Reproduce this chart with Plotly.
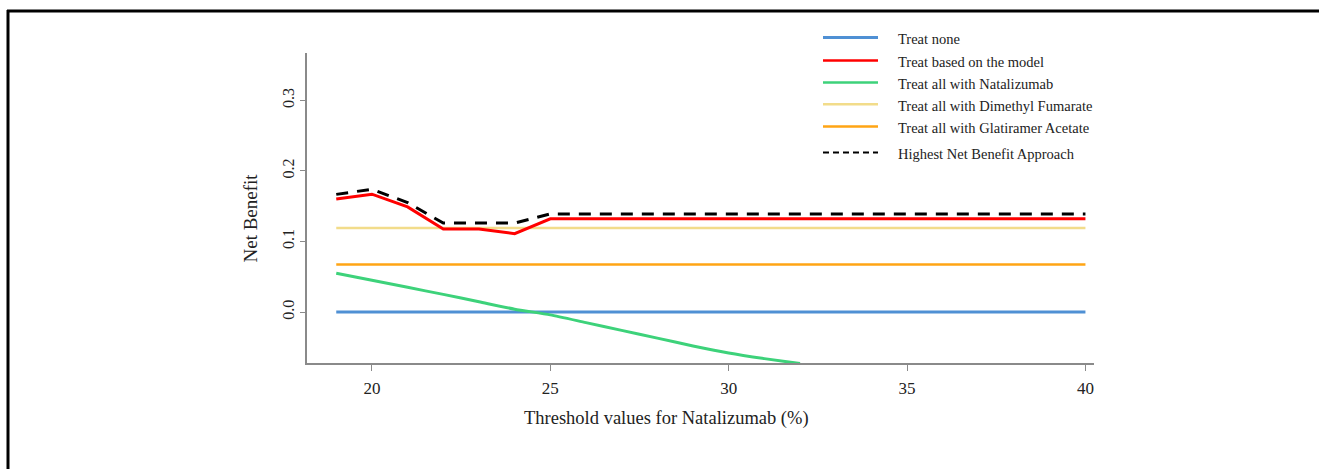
import plotly.graph_objects as go

# ---------------- data ----------------
thresholds = [19, 20, 21, 22, 23, 24, 25, 26, 27, 28, 29, 30, 31, 32, 33, 34, 35, 36, 37, 38, 39, 40]
treat_none = [0.0, 0.0, 0.0, 0.0, 0.0, 0.0, 0.0, 0.0, 0.0, 0.0, 0.0,
              0.0, 0.0, 0.0, 0.0, 0.0, 0.0, 0.0, 0.0, 0.0, 0.0, 0.0]
treat_model = [0.160, 0.167, 0.149, 0.1175, 0.1175, 0.111, 0.132, 0.132, 0.132, 0.132, 0.132,
               0.132, 0.132, 0.132, 0.132, 0.132, 0.132, 0.132, 0.132, 0.132, 0.132, 0.132]
nat_thresholds = [19, 20, 21, 22, 23, 24, 25, 26, 27, 28, 29, 30, 31, 32]
treat_natalizumab = [0.055, 0.045, 0.035, 0.025, 0.0145, 0.004, -0.004, -0.015, -0.026,
                     -0.037, -0.048, -0.058, -0.066, -0.073]
treat_dmf = [0.119, 0.119, 0.119, 0.119, 0.119, 0.119, 0.119, 0.119, 0.119, 0.119, 0.119,
             0.119, 0.119, 0.119, 0.119, 0.119, 0.119, 0.119, 0.119, 0.119, 0.119, 0.119]
treat_ga = [0.0675, 0.0675, 0.0675, 0.0675, 0.0675, 0.0675, 0.0675, 0.0675, 0.0675, 0.0675, 0.0675,
            0.0675, 0.0675, 0.0675, 0.0675, 0.0675, 0.0675, 0.0675, 0.0675, 0.0675, 0.0675, 0.0675]
highest_nb = [0.1667, 0.174, 0.155, 0.126, 0.126, 0.126, 0.139, 0.139, 0.139, 0.139, 0.139,
              0.139, 0.139, 0.139, 0.139, 0.139, 0.139, 0.139, 0.139, 0.139, 0.139, 0.139]

x_ticks = [20, 25, 30, 35, 40]
y_ticks = [0.0, 0.1, 0.2, 0.3]
y_tick_labels = ["0.0", "0.1", "0.2", "0.3"]

series_names = ["Treat none", "Treat based on the model", "Treat all with Natalizumab",
                "Treat all with Dimethyl Fumarate", "Treat all with Glatiramer Acetate",
                "Highest Net Benefit Approach"]

# ---------------- layout geometry ----------------
W, H = 1319, 469
L, R, T, B = 307, 1094, 53, 363   # plot area in pixels
FONT = "Liberation Serif, Times New Roman, serif"

COL_BLUE = "#4f90d4"
COL_RED = "#ff0000"
COL_GREEN = "#3dd27a"
COL_YELLOW = "#f2dc8a"
COL_ORANGE = "#ffa514"
COL_BLACK = "#000000"
AXIS_COL = "#8a8a8a"
TEXT_COL = "#222222"


def px(xp):
    return (xp - L) / (R - L)


def py(yp):
    return (B - yp) / (B - T)


fig = go.Figure()
fig.add_trace(go.Scatter(x=thresholds, y=treat_none, mode="lines",
                         line=dict(color=COL_BLUE, width=3), name=series_names[0]))
fig.add_trace(go.Scatter(x=nat_thresholds, y=treat_natalizumab, mode="lines",
                         line=dict(color=COL_GREEN, width=3, shape="spline", smoothing=0.6),
                         name=series_names[2]))
fig.add_trace(go.Scatter(x=thresholds, y=treat_ga, mode="lines",
                         line=dict(color=COL_ORANGE, width=2.5), name=series_names[4]))
fig.add_trace(go.Scatter(x=thresholds, y=treat_dmf, mode="lines",
                         line=dict(color=COL_YELLOW, width=2.5), name=series_names[3]))
fig.add_trace(go.Scatter(x=thresholds, y=treat_model, mode="lines",
                         line=dict(color=COL_RED, width=3), name=series_names[1]))
fig.add_trace(go.Scatter(x=thresholds, y=highest_nb, mode="lines",
                         line=dict(color=COL_BLACK, width=3, dash="12px,9px"), name=series_names[5]))

# ---------------- manual legend ----------------
legend_rows = [
    (series_names[0], COL_BLUE, 3, None, 37.5),
    (series_names[1], COL_RED, 2.5, None, 60.5),
    (series_names[2], COL_GREEN, 2.5, None, 82.5),
    (series_names[3], COL_YELLOW, 2.5, None, 104.3),
    (series_names[4], COL_ORANGE, 2.5, None, 126.5),
    (series_names[5], COL_BLACK, 2.2, "6px,4px", 152.5),
]
shapes = []
annotations = []
for name, col, w, dash, yp in legend_rows:
    line = dict(color=col, width=w)
    if dash:
        line["dash"] = dash
    shapes.append(dict(type="line", xref="paper", yref="paper",
                       x0=px(823), x1=px(878), y0=py(yp), y1=py(yp), line=line))
    annotations.append(dict(text=name, xref="paper", yref="paper", x=px(896), y=py(yp + 1.5),
                            xanchor="left", yanchor="middle", showarrow=False,
                            font=dict(family=FONT, size=14.5, color=TEXT_COL)))

# outer frame (top and left borders visible)
shapes.append(dict(type="line", xref="paper", yref="paper", x0=px(7), x1=px(1319),
                   y0=py(11), y1=py(11), line=dict(color="black", width=3)))
shapes.append(dict(type="line", xref="paper", yref="paper", x0=px(8), x1=px(8),
                   y0=py(10), y1=py(469), line=dict(color="black", width=3)))

# axis titles
annotations.append(dict(text="Threshold values for Natalizumab (%)", xref="paper", yref="paper",
                        x=px(666), y=py(418), xanchor="center", yanchor="middle", showarrow=False,
                        font=dict(family=FONT, size=18.5, color=TEXT_COL)))
annotations.append(dict(text="Net Benefit", xref="paper", yref="paper",
                        x=px(250), y=py(218.5), xanchor="center", yanchor="middle", showarrow=False,
                        textangle=-90, font=dict(family=FONT, size=19, color=TEXT_COL)))

fig.update_layout(
    width=W, height=H,
    margin=dict(l=L, r=W - R, t=T, b=H - B, pad=0),
    paper_bgcolor="white", plot_bgcolor="white",
    showlegend=False,
    shapes=shapes, annotations=annotations,
    font=dict(family=FONT, color=TEXT_COL),
)
fig.update_xaxes(range=[18.18, 40.24], showgrid=False, zeroline=False,
                 showline=True, linecolor=AXIS_COL, linewidth=1.5,
                 ticks="outside", ticklen=6, tickwidth=1.2, tickcolor=AXIS_COL,
                 tickvals=x_ticks, ticklabelstandoff=3,
                 tickfont=dict(family=FONT, size=17, color=TEXT_COL))
fig.update_yaxes(range=[-0.0722, 0.367], showgrid=False, zeroline=False,
                 showline=True, linecolor=AXIS_COL, linewidth=1.5,
                 ticks="outside", ticklen=5, tickwidth=1.2, tickcolor=AXIS_COL,
                 tickvals=y_ticks, ticktext=y_tick_labels, tickangle=-90,
                 tickfont=dict(family=FONT, size=16, color=TEXT_COL))

fig.write_html(
    "out.html",
    config={"displayModeBar": False},
    post_script="document.body.style.margin='0';document.body.style.overflow='hidden';"
                "document.documentElement.style.overflow='hidden';",
)
